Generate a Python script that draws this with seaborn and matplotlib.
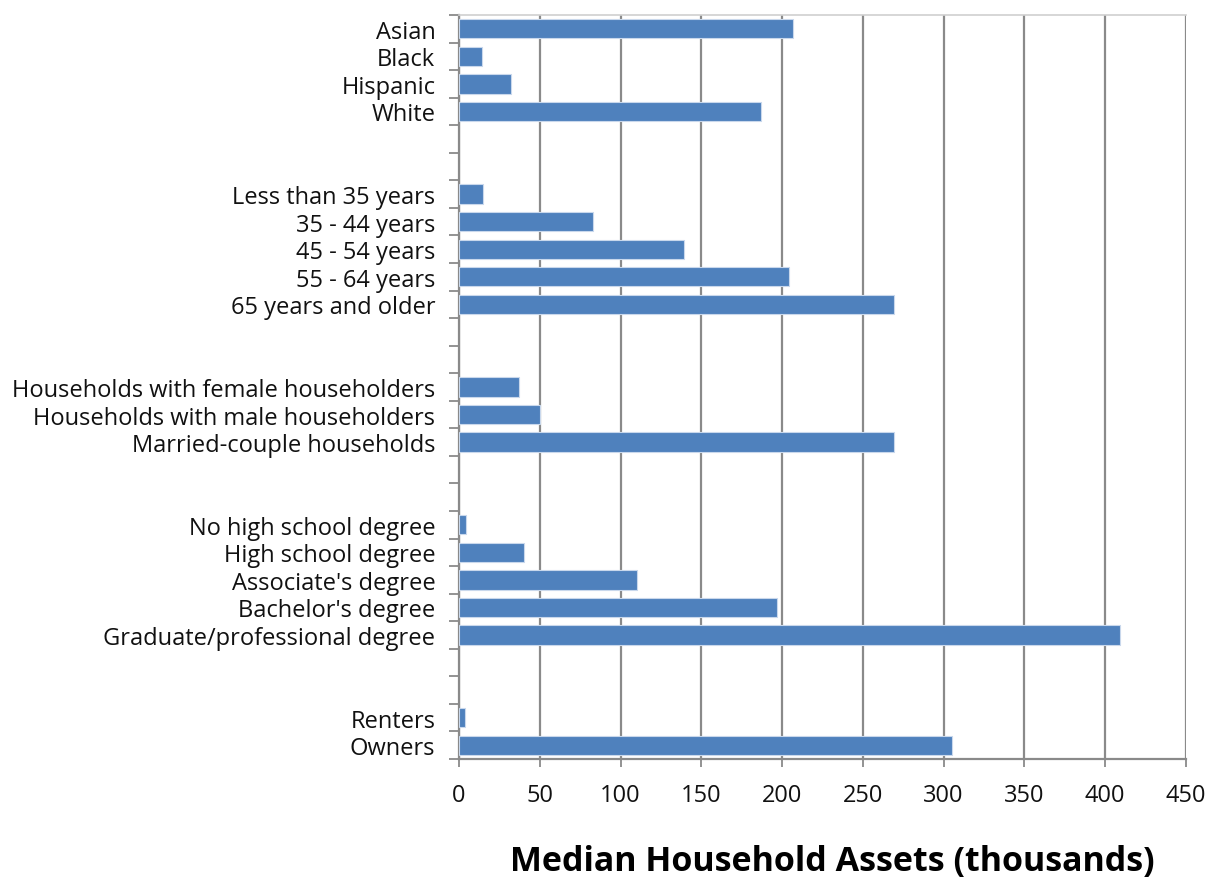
import numpy as np
import pandas as pd
import matplotlib
matplotlib.use("Agg")
import matplotlib.pyplot as plt
import seaborn as sns

# ---------------------------------------------------------------------------
# Data (median household assets, thousands of dollars)
# ---------------------------------------------------------------------------
race_labels = ["Asian", "Black", "Hispanic", "White"]
race_values = [207, 14, 32, 187]

age_labels = ["Less than 35 years", "35 - 44 years", "45 - 54 years",
              "55 - 64 years", "65 years and older"]
age_values = [15, 83, 139, 204, 269]

hh_labels = ["Households with female householders",
             "Households with male householders",
             "Married-couple households"]
hh_values = [37, 50, 269]

edu_labels = ["No high school degree", "High school degree",
              "Associate's degree", "Bachelor's degree",
              "Graduate/professional degree"]
edu_values = [4.5, 40, 110, 197, 409]

tenure_labels = ["Renters", "Owners"]
tenure_values = [4, 305]

x_ticks = [0, 50, 100, 150, 200, 250, 300, 350, 400, 450]
x_label = "Median Household Assets (thousands)"

# ---------------------------------------------------------------------------
# Build category order with two empty rows between groups
# ---------------------------------------------------------------------------
groups = [(race_labels, race_values), (age_labels, age_values),
          (hh_labels, hh_values), (edu_labels, edu_values),
          (tenure_labels, tenure_values)]

order, rows = [], []
n_blank = 0
for i, (labs, vals) in enumerate(groups):
    if i > 0:
        for _ in range(2):
            n_blank += 1
            order.append(" " * n_blank)
    order.extend(labs)
    rows.extend(zip(labs, vals))

df = pd.DataFrame(rows, columns=["category", "value"])

# ---------------------------------------------------------------------------
# Plot
# ---------------------------------------------------------------------------
sns.set_style("white")
plt.rcParams["font.family"] = ["Open Sans", "DejaVu Sans"]

fig = plt.figure(figsize=(12.1, 8.79), dpi=100)
ax = fig.add_axes([0.3793, 0.1354, 0.6008, 0.8464])

sns.barplot(data=df, y="category", x="value", order=order, orient="h",
            color="#4F81BD", saturation=1, width=0.7,
            edgecolor="#c9d8ec", linewidth=0.8, ax=ax, zorder=3)

ax.set_xlim(0, 450)
ax.set_ylim(len(order) - 0.5, -0.5)
ax.set_xticks(x_ticks)
ax.set_xticklabels([str(t) for t in x_ticks])

# grid lines behind bars
ax.grid(axis="x", color="#8a8a8a", linewidth=1.6, zorder=0)
ax.set_axisbelow(True)

# category tick marks at row boundaries (Excel style)
ax.set_yticks(np.arange(-0.5, len(order), 1.0), minor=True)
ax.tick_params(axis="y", which="minor", length=7, width=1.3,
               color="#8a8a8a", direction="out", left=True)
ax.tick_params(axis="y", which="major", length=0, pad=17,
               labelsize=17, labelcolor="#111111")
ax.tick_params(axis="x", which="major", length=6, width=1.3,
               color="#8a8a8a", direction="out", bottom=True,
               pad=11, labelsize=17, labelcolor="#111111")

for side in ["left", "bottom"]:
    ax.spines[side].set_color("#8a8a8a")
    ax.spines[side].set_linewidth(1.6)
ax.spines["top"].set_color("#d0d0d0")
ax.spines["top"].set_linewidth(1.2)
ax.spines["right"].set_visible(False)

ax.set_ylabel("")
ax.set_xlabel(x_label, fontsize=24.5, fontweight="bold", labelpad=27,
              color="#000000")
ax.xaxis.label.set_x(0.513)

fig.savefig("out.png", dpi=100)
